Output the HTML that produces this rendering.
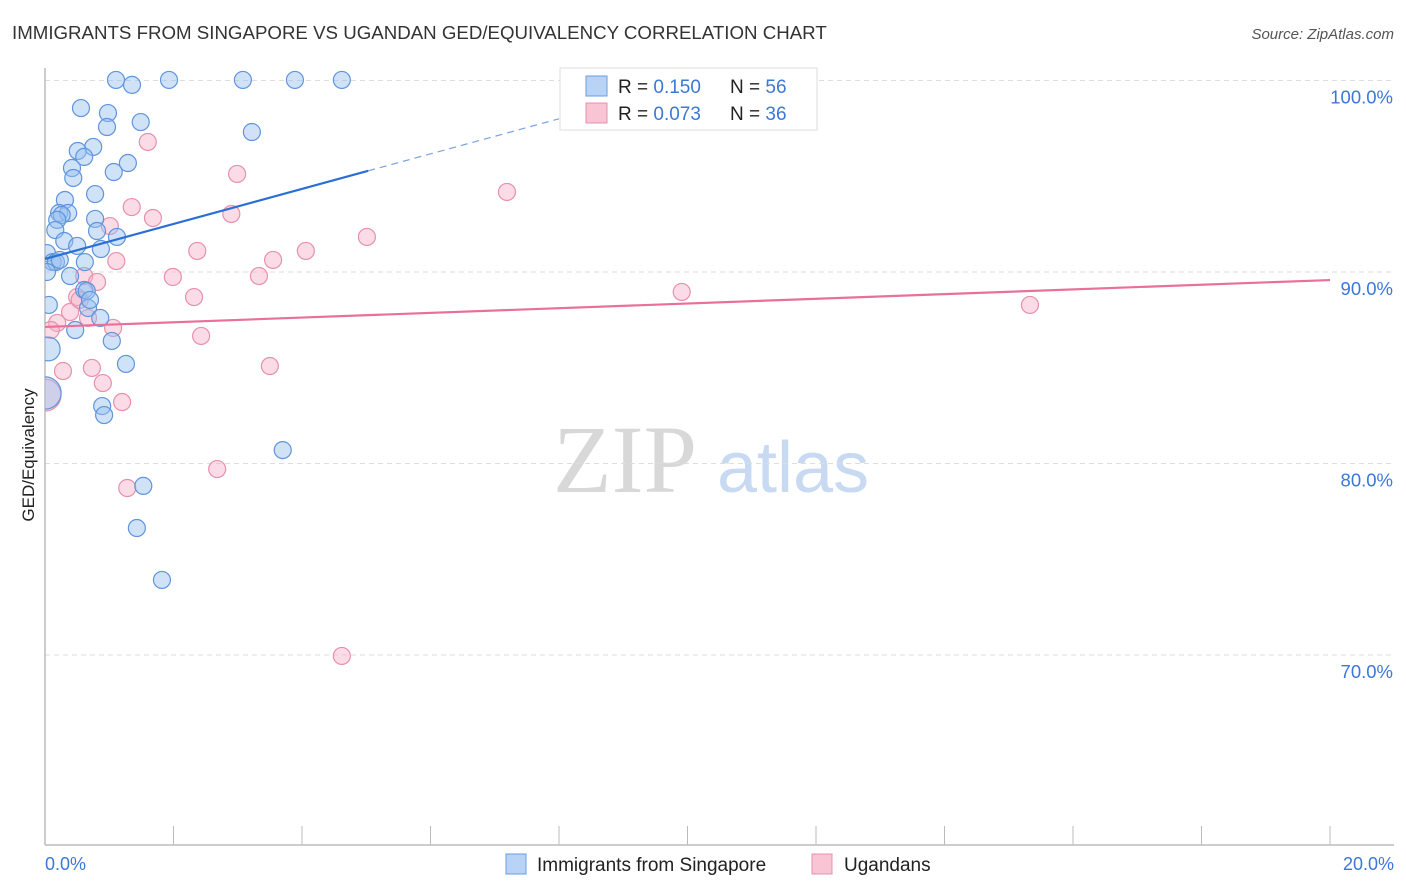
<!DOCTYPE html>
<html><head><meta charset="utf-8"><style>
body{margin:0;background:#fff;font-family:"Liberation Sans",sans-serif;}
svg{display:block}
</style></head><body>
<svg id="c" width="1406" height="892" xmlns="http://www.w3.org/2000/svg">
<defs><clipPath id="plot"><rect x="45" y="60" width="1360" height="786"/></clipPath></defs>
<text x="12" y="39" font-size="18.7" fill="#333">IMMIGRANTS FROM SINGAPORE VS UGANDAN GED/EQUIVALENCY CORRELATION CHART</text>
<text x="1394" y="39" font-size="15" fill="#555" font-style="italic" text-anchor="end">Source: ZipAtlas.com</text>
<g>
<text x="553" y="492" font-family="Liberation Serif,serif" font-size="96" fill="#d8d8d8">ZIP</text>
<text x="717" y="492" font-size="72" fill="#c8daf2">atlas</text>
</g>
<g id="grid"></g>
<g id="axes"></g>
<g id="pts" clip-path="url(#plot)"></g>
<g id="trend"></g>
<text transform="translate(34,455) rotate(-90)" font-size="17" fill="#222" text-anchor="middle">GED/Equivalency</text>
<g>
<rect x="560" y="68" width="257" height="62" fill="#fff" stroke="#ddd"/>
<rect x="586" y="76" width="21" height="20" fill="#b8d3f5" stroke="#6a9de0"/>
<rect x="586" y="103" width="21" height="20" fill="#f9c4d4" stroke="#e890ac"/>
<text x="618" y="93" font-size="19" fill="#222">R = <tspan fill="#3b78d8">0.150</tspan><tspan x="730">N = </tspan><tspan fill="#3b78d8">56</tspan></text>
<text x="618" y="120" font-size="19" fill="#222">R = <tspan fill="#3b78d8">0.073</tspan><tspan x="730">N = </tspan><tspan fill="#3b78d8">36</tspan></text>
</g>
<g>
<rect x="506" y="854" width="20" height="20" fill="#b8d3f5" stroke="#6a9de0"/>
<text x="537" y="871" font-size="19" fill="#222">Immigrants from Singapore</text>
<rect x="812" y="854" width="20" height="20" fill="#f9c4d4" stroke="#e890ac"/>
<text x="844" y="871" font-size="19" fill="#222">Ugandans</text>
</g>
</svg>
<script>
const blueX=[1.105,1.354,1.93,3.08,3.89,4.62,0.56,0.98,0.965,1.49,3.22,0.75,0.51,0.61,1.29,0.42,1.07,0.44,0.31,0.78,0.22,0.36,0.26,0.19,0.78,0.16,0.81,0.30,0.50,1.12,0.87,0.03,0.12,0.17,0.39,0.62,0.03,0.61,0.65,0.67,0.86,0.47,1.04,0.05,1.26,0.89,0.92,1.53,1.43,1.82,3.70,0.06,0.23,0.70,0];
const blueY=[100.03,99.77,100.03,100.03,100.03,100.03,98.56,98.30,97.57,97.83,97.31,96.53,96.32,96.01,95.69,95.43,95.22,94.91,93.76,94.07,93.08,93.08,92.98,92.72,92.77,92.19,92.14,91.62,91.36,91.83,91.20,90.99,90.52,90.52,89.79,90.52,90.0,89.06,89.01,88.12,87.60,86.97,86.40,85.98,85.20,83.00,82.53,78.83,76.63,73.92,80.70,88.28,90.63,88.54,83.68];
const blueSize=[1,1,1,1,1,1,1,1,1,1,1,1,1,1,1,1,1,1,1,1,1,1,1,1,1,1,1,1,1,1,1,1,1,1,1,1,1,1,1,1,1,1,1,1.4,1,1,1,1,1,1,1,1,1,1,1.9];
const pinkX=[1.60,2.99,7.19,1.35,2.90,1.68,1.01,5.01,2.37,4.06,1.11,3.55,1.99,3.33,0.61,0.81,2.32,0.50,9.91,15.33,0.67,0.39,0.19,1.06,2.43,0.09,0.28,0.73,0.90,3.50,1.20,1.28,2.68,4.62,0.54,0];
const pinkY=[96.79,95.12,94.18,93.39,93.03,92.82,92.40,91.83,91.10,91.10,90.57,90.63,89.74,89.79,89.79,89.48,88.69,88.69,88.96,88.28,87.60,87.91,87.34,87.08,86.66,86.97,84.83,84.99,84.20,85.09,83.21,78.72,79.71,69.95,88.54,83.57];
const yTicks=[100,90,80,70];
const yTickLabels=["100.0%","90.0%","80.0%","70.0%"];
const xTicks=[0,2,4,6,8,10,12,14,16,18,20];
const blueTrend=[90.68,0.915];
const pinkTrend=[87.13,0.1225];
const NS="http://www.w3.org/2000/svg";
const X=v=>45+v*64.25;
const Y=v=>272-(v-90)*19.15;
function mk(tag,attrs,parent){const e=document.createElementNS(NS,tag);for(const k in attrs)e.setAttribute(k,attrs[k]);parent.appendChild(e);return e;}
const grid=document.getElementById('grid'),axes=document.getElementById('axes'),pts=document.getElementById('pts'),tr=document.getElementById('trend');
yTicks.forEach((t,i)=>{
 const l=mk('line',{x1:45,x2:1394,y1:Y(t),y2:Y(t),stroke:'#ddd','stroke-dasharray':'5,4'},grid);
 
 
 const tx=mk('text',{x:1393,y:Y(t)+23,'font-size':18.5,fill:'#3b78d8','text-anchor':'end'},grid);
 tx.textContent=yTickLabels[i];
 
 
});
const ax=mk('line',{x1:45,x2:1394,y1:845,y2:845,stroke:'#bbb','stroke-width':1.5},axes);


const ay=mk('line',{x1:45,x2:45,y1:68,y2:845,stroke:'#bbb','stroke-width':1.5},axes);


xTicks.forEach(t=>{
 const l=mk('line',{x1:X(t),x2:X(t),y1:826,y2:845,stroke:'#bbb'},axes);
 
 
});
const x0=mk('text',{x:45,y:870,'font-size':18,fill:'#3b78d8'},axes);x0.textContent='0.0%';


const x1=mk('text',{x:1394,y:870,'font-size':18,fill:'#3b78d8','text-anchor':'end'},axes);x1.textContent='20.0%';


pinkX.forEach((v,i)=>{
 const c=mk('circle',{cx:X(v),cy:Y(pinkY[i]),r:i==pinkX.length-1?16:8.5,fill:'rgba(246,178,200,0.45)',stroke:'#e890ac','stroke-width':1.2},pts);
 
 
});
blueX.forEach((v,i)=>{
 const c=mk('circle',{cx:X(v),cy:Y(blueY[i]),r:8.5*blueSize[i],fill:'rgba(150,190,240,0.45)',stroke:'#5f95dc','stroke-width':1.2},pts);
 
 
});
const bl=mk('line',{x1:X(0),y1:Y(blueTrend[0]),x2:X(5.03),y2:Y(blueTrend[0]+blueTrend[1]*5.03),stroke:'#2a6fd6','stroke-width':2.2},tr);


const bd=mk('line',{x1:X(5.03),y1:Y(blueTrend[0]+blueTrend[1]*5.03),x2:X(8.0),y2:Y(blueTrend[0]+blueTrend[1]*8.0),stroke:'#7aa3dd','stroke-width':1.2,'stroke-dasharray':'7,5'},tr);


const pl=mk('line',{x1:X(0),y1:Y(pinkTrend[0]),x2:X(20),y2:Y(pinkTrend[0]+pinkTrend[1]*20),stroke:'#e8709a','stroke-width':2.2},tr);


</script>
</body></html>
